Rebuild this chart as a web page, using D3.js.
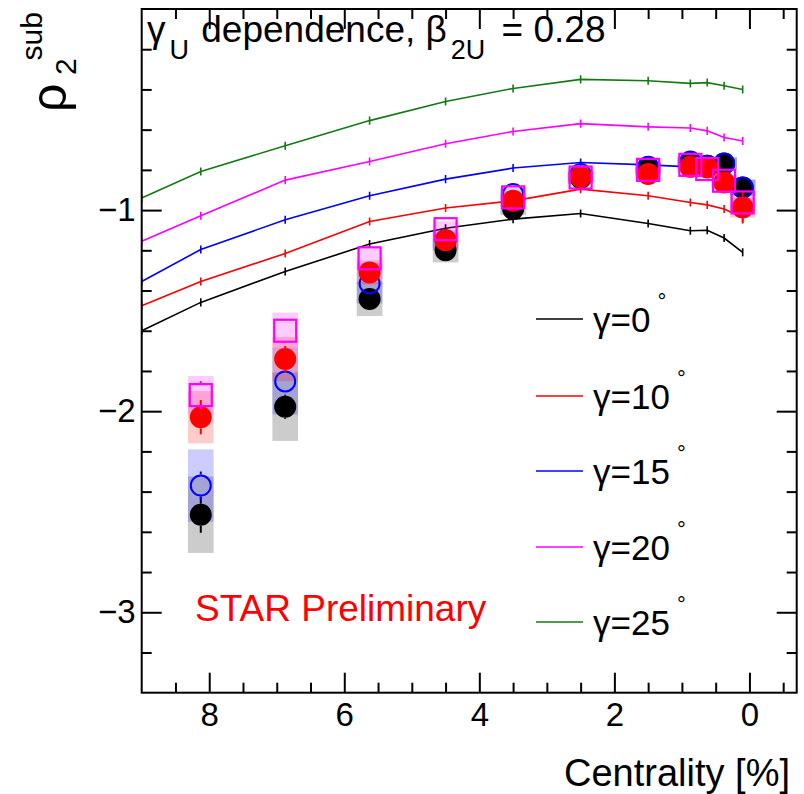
<!DOCTYPE html>
<html>
<head>
<meta charset="utf-8">
<script src="https://cdn.jsdelivr.net/npm/d3@7"></script>
<style>
  body { margin: 0; background: #fff; }
  text { font-family: "Liberation Sans", Arial, sans-serif; }
</style>
</head>
<body>
<svg></svg>
<script>
var svg = d3.select('svg');

var width = 804;
var height = 794;

svg.attr("width", width)
   .attr("height", height);

// frame of the plot, in pixels
var frame = { "left": 141.7, "right": 796.7, "top": 9, "bottom": 692.7 };

// ---- model curves (one per gamma) ----
var lineCent = [9.0, 8.125, 6.875, 5.625, 4.5, 3.5, 2.5, 1.5, 0.875, 0.625, 0.375, 0.1];
var gamma0  = [-1.600, -1.459, -1.305, -1.169, -1.090, -1.045, -1.017, -1.067, -1.103, -1.100, -1.139, -1.210];
var gamma10 = [-1.476, -1.355, -1.216, -1.057, -0.990, -0.954, -0.896, -0.929, -0.962, -0.974, -0.995, -1.037];
var gamma15 = [-1.355, -1.196, -1.048, -0.929, -0.846, -0.791, -0.763, -0.775, -0.785, -0.800, -0.825, -0.860];
var gamma20 = [-1.155, -1.028, -0.851, -0.758, -0.670, -0.609, -0.570, -0.586, -0.592, -0.606, -0.639, -0.656];
var gamma25 = [-0.940, -0.808, -0.680, -0.555, -0.460, -0.395, -0.350, -0.357, -0.370, -0.366, -0.382, -0.400];
var lineErr = [0.02, 0.02, 0.02, 0.02, 0.02, 0.02, 0.02, 0.02, 0.02, 0.02, 0.02, 0.02];

var gammaLabels = ["0", "10", "15", "20", "25"];
var gammaColors = ["#000000", "#ff0000", "#0000ff", "#ff00ff", "#137a13"];
var gammaSeries = [gamma0, gamma10, gamma15, gamma20, gamma25];

// ---- measured points ----
var dataCent = [8.125, 6.875, 5.625, 4.5, 3.5, 2.5, 1.5, 0.875, 0.625, 0.375, 0.1];

var blackVal  = [-2.515, -1.978, -1.442, -1.200, -0.995, -0.840, -0.796, -0.765, -0.780, -0.768, -0.888];
var blackStat = [0.090, 0.060, 0.030, 0.025, 0.020, 0.015, 0.015, 0.015, 0.015, 0.015, 0.020];
var blackSys  = [0.190, 0.170, 0.085, 0.060, 0.030, 0.030, 0.030, 0.030, 0.030, 0.030, 0.040];

var blueVal  = [-2.370, -1.852, -1.365, -1.150, -0.920, -0.821, -0.785, -0.758, -0.780, -0.768, -0.888];
var blueStat = [0.070, 0.050, 0.030, 0.025, 0.020, 0.015, 0.015, 0.015, 0.015, 0.015, 0.020];
var blueSys  = [0.180, 0.165, 0.100, 0.050, 0.030, 0.030, 0.030, 0.030, 0.030, 0.030, 0.040];

var redVal  = [-2.030, -1.741, -1.310, -1.150, -0.954, -0.834, -0.820, -0.785, -0.788, -0.863, -0.987];
var redStat = [0.085, 0.065, 0.030, 0.025, 0.020, 0.015, 0.015, 0.015, 0.015, 0.020, 0.080];
var redSys  = [0.130, 0.110, 0.060, 0.040, 0.030, 0.030, 0.030, 0.030, 0.030, 0.030, 0.050];

var magVal  = [-1.920, -1.600, -1.240, -1.095, -0.937, -0.838, -0.800, -0.775, -0.796, -0.854, -0.962];
var magStat = [0.070, 0.050, 0.025, 0.020, 0.020, 0.015, 0.015, 0.015, 0.015, 0.015, 0.020];
var magSys  = [0.095, 0.090, 0.050, 0.040, 0.030, 0.030, 0.030, 0.030, 0.030, 0.030, 0.040];

// ---- ticks ----
var xMajor = [8, 6, 4, 2, 0];
var xMinor = [8.5, 7.5, 7, 6.5, 5.5, 5, 4.5, 3.5, 3, 2.5, 1.5, 1, 0.5, -0.5];
var yMajor = [-1, -2, -3];
var yMinor = [-0.2, -0.4, -0.6, -0.8, -1.2, -1.4, -1.6, -1.8, -2.2, -2.4, -2.6, -2.8, -3.2];

var scaleX = d3.scaleLinear()
               .domain([9, -0.7])
               .range([frame.left, frame.right]);

var scaleY = d3.scaleLinear()
               .domain([-3.4, 0])
               .range([frame.bottom, frame.top]);

svg.append("rect")
   .attr("width", width).attr("height", height)
   .attr("fill", "#fff");

svg.append("clipPath").attr("id", "plotclip")
   .append("rect")
   .attr("x", frame.left).attr("y", frame.top)
   .attr("width", frame.right - frame.left)
   .attr("height", frame.bottom - frame.top);

var plot = svg.append("g").attr("clip-path", "url(#plotclip)");

// model lines
var line = d3.line()
             .x(function(d){ return scaleX(d.x) })
             .y(function(d){ return scaleY(d.y) });

gammaSeries.forEach(function(vals, k) {
  var pts = lineCent.map(function(c, i) { return { x: c, y: vals[i], e: lineErr[i] } });
  plot.append("path")
      .datum(pts)
      .attr("d", line)
      .attr("fill", "none")
      .attr("stroke", gammaColors[k])
      .attr("stroke-width", 1.6);
  plot.selectAll(null)
      .data(pts)
      .enter()
      .append("line")
      .attr("x1", function(d){ return scaleX(d.x) })
      .attr("x2", function(d){ return scaleX(d.x) })
      .attr("y1", function(d){ return scaleY(d.y - d.e) })
      .attr("y2", function(d){ return scaleY(d.y + d.e) })
      .attr("stroke", gammaColors[k])
      .attr("stroke-width", 1.6);
});

// measured sets: black, blue, red, magenta
var sets = [
  { val: blackVal, stat: blackStat, sys: blackSys, color: "#000000", band: "rgba(0,0,0,0.2)",     shape: "fill" },
  { val: blueVal,  stat: blueStat,  sys: blueSys,  color: "#0000ff", band: "rgba(0,0,255,0.2)",   shape: "open" },
  { val: redVal,   stat: redStat,   sys: redSys,   color: "#ff0000", band: "rgba(255,0,0,0.2)",   shape: "fill" },
  { val: magVal,   stat: magStat,   sys: magSys,   color: "#ff00ff", band: "rgba(255,0,255,0.2)", shape: "square" }
];

var bandHalf = 0.19;
var markR = 11;

sets.forEach(function(s) {
  var pts = dataCent.map(function(c, i) { return { x: c, y: s.val[i], e: s.stat[i], sy: s.sys[i] } });
  plot.selectAll(null)
      .data(pts)
      .enter()
      .append("rect")
      .attr("x", function(d){ return scaleX(d.x + bandHalf) })
      .attr("width", function(d){ return scaleX(d.x - bandHalf) - scaleX(d.x + bandHalf) })
      .attr("y", function(d){ return scaleY(d.y + d.sy) })
      .attr("height", function(d){ return scaleY(d.y - d.sy) - scaleY(d.y + d.sy) })
      .attr("fill", s.band);
});

sets.forEach(function(s) {
  var pts = dataCent.map(function(c, i) { return { x: c, y: s.val[i], e: s.stat[i] } });
  var g = plot.append("g");
  // error bar pieces outside the marker, as ROOT draws them
  [1, -1].forEach(function(sign) {
    g.selectAll(null)
     .data(pts.filter(function(d){ return scaleY(d.y - d.e) - scaleY(d.y) > markR }))
     .enter()
     .append("line")
     .attr("x1", function(d){ return scaleX(d.x) })
     .attr("x2", function(d){ return scaleX(d.x) })
     .attr("y1", function(d){ return scaleY(d.y) + sign * markR })
     .attr("y2", function(d){ return scaleY(d.y - sign * d.e) })
     .attr("stroke", s.color)
     .attr("stroke-width", 2);
  });
  if (s.shape == "square") {
    g.selectAll(null)
     .data(pts)
     .enter()
     .append("rect")
     .attr("x", function(d){ return scaleX(d.x) - markR })
     .attr("y", function(d){ return scaleY(d.y) - markR })
     .attr("width", 2 * markR).attr("height", 2 * markR)
     .attr("fill", "none")
     .attr("stroke", s.color)
     .attr("stroke-width", 2.2);
  } else {
    g.selectAll(null)
     .data(pts)
     .enter()
     .append("circle")
     .attr("cx", function(d){ return scaleX(d.x) })
     .attr("cy", function(d){ return scaleY(d.y) })
     .attr("r", s.shape == "open" ? markR - 1 : markR)
     .attr("fill", s.shape == "open" ? "none" : s.color)
     .attr("stroke", s.shape == "open" ? s.color : "none")
     .attr("stroke-width", 2);
  }
});

// ---- axes (ROOT style, ticks inside on all four sides) ----
function styleAxis(g) {
  g.select(".domain").remove();
  g.selectAll(".tick line").attr("stroke", "#000").attr("stroke-width", 2);
  g.selectAll("text").attr("font-family", "Liberation Sans, Arial, sans-serif")
                     .attr("fill", "#000");
}

svg.append("g")
   .attr("transform", "translate(0," + frame.bottom + ")")
   .call(d3.axisBottom(scaleX).tickValues(xMajor).tickSize(-20).tickPadding(10)
           .tickFormat(d3.format("d")))
   .call(styleAxis)
   .selectAll("text").attr("font-size", 33);

svg.append("g")
   .attr("transform", "translate(0," + frame.bottom + ")")
   .call(d3.axisBottom(scaleX).tickValues(xMinor).tickSize(-10).tickFormat(""))
   .call(styleAxis);

svg.append("g")
   .attr("transform", "translate(0," + frame.top + ")")
   .call(d3.axisTop(scaleX).tickValues(xMajor).tickSize(-20).tickFormat(""))
   .call(styleAxis);

svg.append("g")
   .attr("transform", "translate(0," + frame.top + ")")
   .call(d3.axisTop(scaleX).tickValues(xMinor).tickSize(-10).tickFormat(""))
   .call(styleAxis);

svg.append("g")
   .attr("transform", "translate(" + frame.left + ",0)")
   .call(d3.axisLeft(scaleY).tickValues(yMajor).tickSize(-20).tickPadding(6)
           .tickFormat(d3.format("d")))
   .call(styleAxis)
   .selectAll("text").attr("font-size", 33);

svg.append("g")
   .attr("transform", "translate(" + frame.left + ",0)")
   .call(d3.axisLeft(scaleY).tickValues(yMinor).tickSize(-10).tickFormat(""))
   .call(styleAxis);

svg.append("g")
   .attr("transform", "translate(" + frame.right + ",0)")
   .call(d3.axisRight(scaleY).tickValues(yMajor).tickSize(-20).tickFormat(""))
   .call(styleAxis);

svg.append("g")
   .attr("transform", "translate(" + frame.right + ",0)")
   .call(d3.axisRight(scaleY).tickValues(yMinor).tickSize(-10).tickFormat(""))
   .call(styleAxis);

svg.append("rect")
   .attr("x", frame.left).attr("y", frame.top)
   .attr("width", frame.right - frame.left)
   .attr("height", frame.bottom - frame.top)
   .attr("fill", "none")
   .attr("stroke", "#000")
   .attr("stroke-width", 2);

// ---- texts ----
var title = svg.append("text")
               .attr("x", 147).attr("y", 42)
               .attr("font-size", 37);
title.append("tspan").text("γ");
title.append("tspan").attr("font-size", 27).attr("dx", 4).attr("dy", 17).text("U");
title.append("tspan").attr("dx", 2).attr("dy", -17).text(" dependence, β");
title.append("tspan").attr("font-size", 27).attr("dx", 4).attr("dy", 17).text("2U");
title.append("tspan").attr("dx", 6).attr("dy", -17).text(" = 0.28");

var ytitle = svg.append("g").attr("transform", "translate(66,112) rotate(-90)");
ytitle.append("text").attr("x", 0).attr("y", 0).attr("font-size", 50).text("ρ");
ytitle.append("text").attr("x", 37).attr("y", 10).attr("font-size", 30).text("2");
ytitle.append("text").attr("x", 100).attr("y", -24).attr("font-size", 30)
      .attr("text-anchor", "end").text("sub");

svg.append("text")
   .attr("x", 790).attr("y", 786)
   .attr("text-anchor", "end")
   .attr("font-size", 38)
   .text("Centrality [%]");

svg.append("text")
   .attr("x", 195).attr("y", 621)
   .attr("font-size", 37)
   .attr("fill", "#ff0000")
   .text("STAR Preliminary");

// legend
var legendY = [319, 396, 471, 547, 622];
gammaLabels.forEach(function(lab, k) {
  var ly = legendY[k];
  svg.append("line")
     .attr("x1", 536).attr("x2", 583)
     .attr("y1", ly).attr("y2", ly)
     .attr("stroke", gammaColors[k])
     .attr("stroke-width", 1.6);
  var t = svg.append("text")
             .attr("x", 593).attr("y", ly + 13)
             .attr("font-size", 35);
  t.append("tspan").text("γ=" + lab);
  t.append("tspan").attr("font-size", 22).attr("dx", 7).attr("dy", -23).text("°");
});
</script>
</body>
</html>
